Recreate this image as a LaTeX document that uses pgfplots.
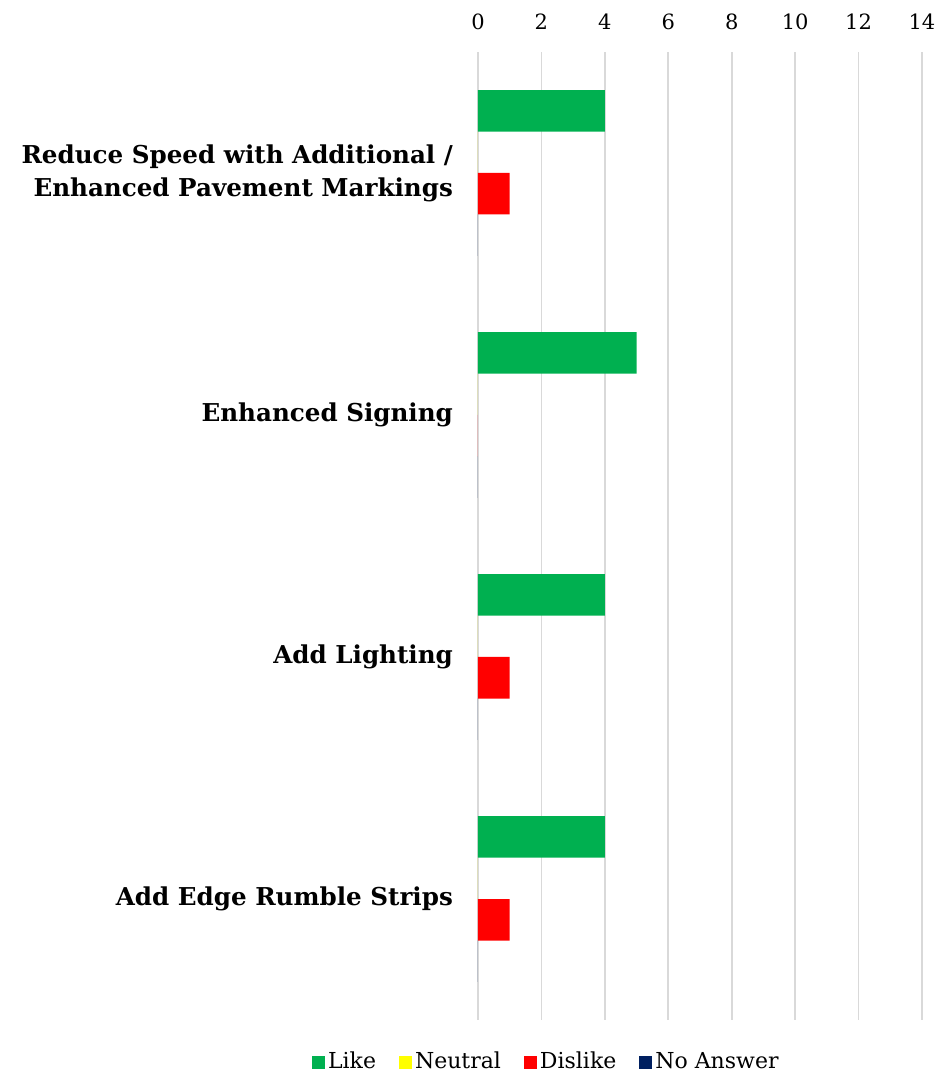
\documentclass[border=0pt]{standalone}
\usepackage{fontspec}
\setmainfont{DejaVu Serif}
\usepackage{pgfplots}
\pgfplotsset{compat=1.18}

\definecolor{like}{HTML}{00B050}
\definecolor{neutral}{HTML}{FFFF00}
\definecolor{dislike}{HTML}{FF0000}
\definecolor{noans}{HTML}{002060}
\definecolor{gridgray}{HTML}{D9D9D9}

\begin{document}
\begin{tikzpicture}
\begin{axis}[
  scale only axis,
  width=222pt, height=484pt,
  xbar, bar width=0.1715,
  xmin=0, xmax=14, xtick={0,2,...,14},
  ymin=-0.5, ymax=3.5, y dir=reverse,
  ytick={0,1,2,3},
  yticklabels={{Reduce Speed with Additional /\\Enhanced Pavement Markings},
               {Enhanced Signing},{Add Lighting},{Add Edge Rumble Strips}},
  yticklabel style={font=\fontsize{12.3}{16.5}\selectfont\bfseries, align=right, xshift=-9pt},
  xticklabel pos=upper,
  xticklabel style={font=\fontsize{10.5}{12}\selectfont, yshift=7.5pt},
  /pgf/number format/assume math mode=true,
  major tick length=0pt,
  axis line style={draw=none},
  xmajorgrids, grid style={gridgray, line width=0.8pt},
  legend columns=4,
  legend style={draw=none, at={(0.155,-0.0434)}, anchor=center,
    font=\fontsize{11}{12}\selectfont, column sep=0pt,
    nodes={inner xsep=1.5pt},
    /tikz/every even column/.append style={column sep=10pt}},
  legend image code/.code={\fill[#1] (0pt,-3.25pt) rectangle (6.5pt,3.25pt);},
]
\addplot[fill=like, draw=none, bar shift=-0.257] coordinates {(4,0) (5,1) (4,2) (4,3)};
\addplot[fill=neutral, draw=none, bar shift=-0.0857] coordinates {(0,0) (0,1) (0,2) (0,3)};
\addplot[fill=dislike, draw=none, bar shift=0.0857] coordinates {(1,0) (0,1) (1,2) (1,3)};
\addplot[fill=noans, draw=none, bar shift=0.257] coordinates {(0,0) (0,1) (0,2) (0,3)};
\legend{Like, Neutral, Dislike, No Answer}
\end{axis}
\pgfresetboundingbox
\path ([shift={(-239pt,-30.5pt)}]current axis.south west) rectangle ([shift={(13pt,26pt)}]current axis.north east);
\end{tikzpicture}
\end{document}
